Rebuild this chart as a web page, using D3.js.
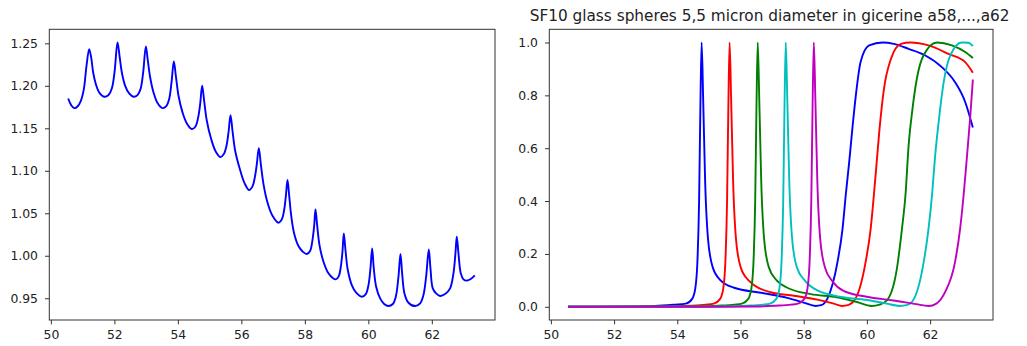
<!DOCTYPE html>
<html><head><meta charset="utf-8">
<script src="https://cdn.jsdelivr.net/npm/d3@7"></script>
<style>body{margin:0;background:#fff}svg{display:block}text{font-family:"DejaVu Sans",sans-serif}</style>
</head><body><svg id="c" width="1027" height="346"></svg>
<script>
// ---- data ----
const xTicks = [50, 52, 54, 56, 58, 60, 62];
const leftYTicks = [0.95, 1.00, 1.05, 1.10, 1.15, 1.20, 1.25];
const rightYTicks = [0.0, 0.2, 0.4, 0.6, 0.8, 1.0];
const title = "SF10 glass spheres 5,5 micron diameter in gicerine a58,...,a62";

const leftX = [50.545,50.639,50.734,50.839,50.944,51.038,51.122,51.206,51.269,51.332,51.416,51.521,51.679,
51.815,51.920,52.004,52.099,52.162,52.235,52.340,52.466,52.603,
52.729,52.823,52.907,52.991,53.054,53.128,53.233,53.359,53.516,
53.642,53.726,53.800,53.873,53.936,54.020,54.146,54.283,54.440,
54.555,54.639,54.702,54.765,54.828,54.912,55.049,55.196,55.343,
55.448,55.532,55.595,55.658,55.721,55.805,55.952,56.099,56.246,
56.351,56.424,56.487,56.550,56.613,56.697,56.823,56.981,57.170,
57.274,57.348,57.400,57.453,57.505,57.568,57.663,57.799,57.936,58.062,
58.167,58.240,58.293,58.335,58.387,58.461,58.587,58.744,58.881,58.975,
59.070,59.133,59.185,59.227,59.280,59.353,59.479,59.616,59.794,
59.920,60.004,60.067,60.120,60.172,60.246,60.372,60.498,60.634,
60.771,60.865,60.949,61.012,61.065,61.138,61.264,61.474,
61.631,61.736,61.820,61.904,61.957,62.030,62.135,62.261,
62.419,62.576,62.681,62.744,62.786,62.839,62.912,62.996,63.101,63.227,63.353];
const leftY = [1.1851,1.1773,1.1738,1.1757,1.1824,1.1961,1.2236,1.2432,1.2334,1.2157,1.2020,1.1922,1.1871,
1.1891,1.1969,1.2157,1.2510,1.2353,1.2157,1.2000,1.1910,1.1871,
1.1891,1.1961,1.2157,1.2463,1.2295,1.2098,1.1922,1.1797,1.1738,
1.1765,1.1844,1.2040,1.2287,1.2118,1.1883,1.1687,1.1557,1.1491,
1.1522,1.1628,1.1785,1.2001,1.1824,1.1589,1.1373,1.1224,1.1161,
1.1197,1.1294,1.1451,1.1655,1.1471,1.1236,1.1020,1.0855,1.0773,
1.0816,1.0922,1.1079,1.1267,1.1079,1.0844,1.0628,1.0471,1.0389,
1.0428,1.0538,1.0695,1.0891,1.0714,1.0479,1.0263,1.0114,1.0048,1.0020,
1.0059,1.0185,1.0350,1.0546,1.0361,1.0126,0.9930,0.9793,0.9738,0.9722,
0.9761,0.9871,1.0048,1.0263,1.0067,0.9832,0.9655,0.9565,0.9518,
0.9549,0.9655,0.9851,1.0087,0.9851,0.9636,0.9498,0.9432,0.9408,
0.9432,0.9518,0.9753,1.0020,0.9793,0.9557,0.9447,0.9408,
0.9440,0.9538,0.9753,1.0075,0.9851,0.9616,0.9557,0.9526,
0.9549,0.9616,0.9793,1.0028,1.0224,1.0028,0.9793,0.9722,0.9707,0.9726,0.9769];

const blueX = [50.545,51.5,52.5,53.3,53.9,54.27,54.47,54.57,54.64,54.69,54.73,54.77,54.82,54.88,54.97,55.12,55.37,55.80,56.65,57.48,58.00,58.38,58.55,58.75,59.07,59.23,59.33,59.44,59.54,59.65,59.80,60.07,60.50,60.85,61.32,61.85,62.37,62.79,63.11,63.353];
const blueY = [0,0,0.001,0.003,0.008,0.012,0.030,0.070,0.180,0.400,0.750,1.000,0.780,0.480,0.260,0.150,0.100,0.072,0.053,0.034,0.016,0.003,0.006,0.031,0.170,0.296,0.422,0.548,0.674,0.800,0.926,0.989,1.000,0.995,0.976,0.951,0.907,0.850,0.775,0.678];
const redX = [50.545,52.0,53.5,54.4,54.9,55.155,55.355,55.455,55.525,55.575,55.615,55.655,55.705,55.765,55.855,56.005,56.255,56.96,57.69,58.43,58.95,59.22,59.40,59.64,59.96,60.12,60.22,60.31,60.40,60.54,60.76,61.08,61.38,61.95,62.58,63.11,63.353];
const redY = [0,0,0.001,0.004,0.008,0.012,0.030,0.070,0.180,0.400,0.750,1.000,0.780,0.480,0.260,0.150,0.100,0.055,0.042,0.027,0.012,0.003,0.006,0.031,0.170,0.296,0.422,0.548,0.674,0.825,0.938,0.995,1.000,0.989,0.957,0.926,0.886];
const greenX = [50.545,53.0,54.5,55.3,55.8,56.045,56.245,56.345,56.415,56.465,56.505,56.545,56.595,56.655,56.745,56.895,57.145,57.48,58.22,59.05,59.68,60.15,60.40,60.64,60.95,61.11,61.22,61.32,61.43,61.58,61.79,62.22,62.69,63.11,63.353];
const greenY = [0,0,0.001,0.004,0.008,0.012,0.030,0.070,0.180,0.400,0.750,1.000,0.780,0.480,0.260,0.150,0.100,0.072,0.048,0.036,0.018,0.003,0.008,0.025,0.145,0.296,0.422,0.611,0.737,0.863,0.951,1.000,0.989,0.964,0.941];
const cyanX = [50.545,54.0,55.5,56.2,56.7,56.932,57.132,57.232,57.302,57.352,57.392,57.432,57.482,57.542,57.632,57.782,58.032,58.43,59.26,60.10,60.62,61.05,61.25,61.43,61.74,61.95,62.06,62.16,62.27,62.43,62.64,63.00,63.21,63.353];
const cyanY = [0,0,0.001,0.004,0.008,0.012,0.030,0.070,0.180,0.400,0.750,1.000,0.780,0.480,0.260,0.150,0.100,0.062,0.036,0.024,0.012,0.003,0.006,0.019,0.132,0.296,0.422,0.573,0.699,0.850,0.951,1.000,0.999,0.986];
const magentaX = [50.545,55.0,56.5,57.1,57.6,57.82,58.02,58.12,58.19,58.24,58.28,58.32,58.37,58.43,58.52,58.67,58.92,59.26,59.99,60.83,61.56,61.95,62.20,62.48,62.79,62.95,63.06,63.16,63.27,63.353];
const magentaY = [0,0,0.001,0.004,0.008,0.012,0.030,0.070,0.180,0.400,0.750,1.000,0.780,0.480,0.260,0.150,0.095,0.060,0.038,0.024,0.010,0.003,0.012,0.057,0.170,0.296,0.422,0.560,0.720,0.860];

const rightSeries = [
  {x: blueX, y: blueY, color: "#0000ff"},
  {x: redX, y: redY, color: "#ff0000"},
  {x: greenX, y: greenY, color: "#008000"},
  {x: cyanX, y: cyanY, color: "#00bfbf"},
  {x: magentaX, y: magentaY, color: "#bf00bf"}
];

// ---- layout ----
const svg = d3.select("#c");
const plotTop = 29.3, plotBottom = 320;
const xDomain = [49.95, 63.99];
const TICK_FONT = 12.4;

function panel(x0, x1, yDomain, yTicks, yFmt) {
  const x = d3.scaleLinear().domain(xDomain).range([x0, x1]);
  const y = d3.scaleLinear().domain(yDomain).range([plotBottom, plotTop]);
  const g = svg.append("g");
  const xa = g.append("g").attr("transform", `translate(0,${plotBottom})`)
    .call(d3.axisBottom(x).tickValues(xTicks).tickFormat(d3.format("d")).tickSizeInner(4.3).tickSizeOuter(0).tickPadding(6));
  const ya = g.append("g").attr("transform", `translate(${x0},0)`)
    .call(d3.axisLeft(y).tickValues(yTicks).tickFormat(yFmt).tickSizeInner(4.3).tickSizeOuter(0).tickPadding(7));
  [xa, ya].forEach(a => {
    a.select(".domain").remove();
    a.selectAll("line").attr("stroke", "#333").attr("stroke-width", 1);
    a.selectAll("text").attr("fill", "#222").style("font-size", TICK_FONT + "px").attr("font-family", "DejaVu Sans");
  });
  return {x, y, g};
}

function frame(p, x0, x1) {
  p.g.append("rect").attr("x", x0).attr("y", plotTop).attr("width", x1 - x0).attr("height", plotBottom - plotTop)
    .attr("fill", "none").attr("stroke", "#333").attr("stroke-width", 1);
}

// left panel
const L = panel(49.3, 495, [0.9244, 1.2665], leftYTicks, d3.format(".2f"));
const leftData = d3.zip(leftX, leftY);
L.g.append("path").datum(leftData)
  .attr("fill", "none").attr("stroke", "#0000ff").attr("stroke-width", 1.9).attr("stroke-linejoin", "round")
  .attr("d", d3.line().x(d => L.x(d[0])).y(d => L.y(d[1])).curve(d3.curveCatmullRom.alpha(0.5)));
frame(L, 49.3, 495);

// right panel
const R = panel(549.3, 993, [-0.05, 1.05], rightYTicks, d3.format(".1f"));
rightSeries.forEach(s => {
  R.g.append("path").datum(d3.zip(s.x, s.y))
    .attr("fill", "none").attr("stroke", s.color).attr("stroke-width", 1.9).attr("stroke-linejoin", "round")
    .attr("d", d3.line().x(d => R.x(d[0])).y(d => R.y(d[1])).curve(d3.curveMonotoneX));
});
frame(R, 549.3, 993);

svg.append("text").attr("x", (549.3 + 993) / 2 - 1.5).attr("y", 21).attr("text-anchor", "middle")
  .attr("fill", "#222").style("font-size", "15.3px").text(title);
</script></body></html>
